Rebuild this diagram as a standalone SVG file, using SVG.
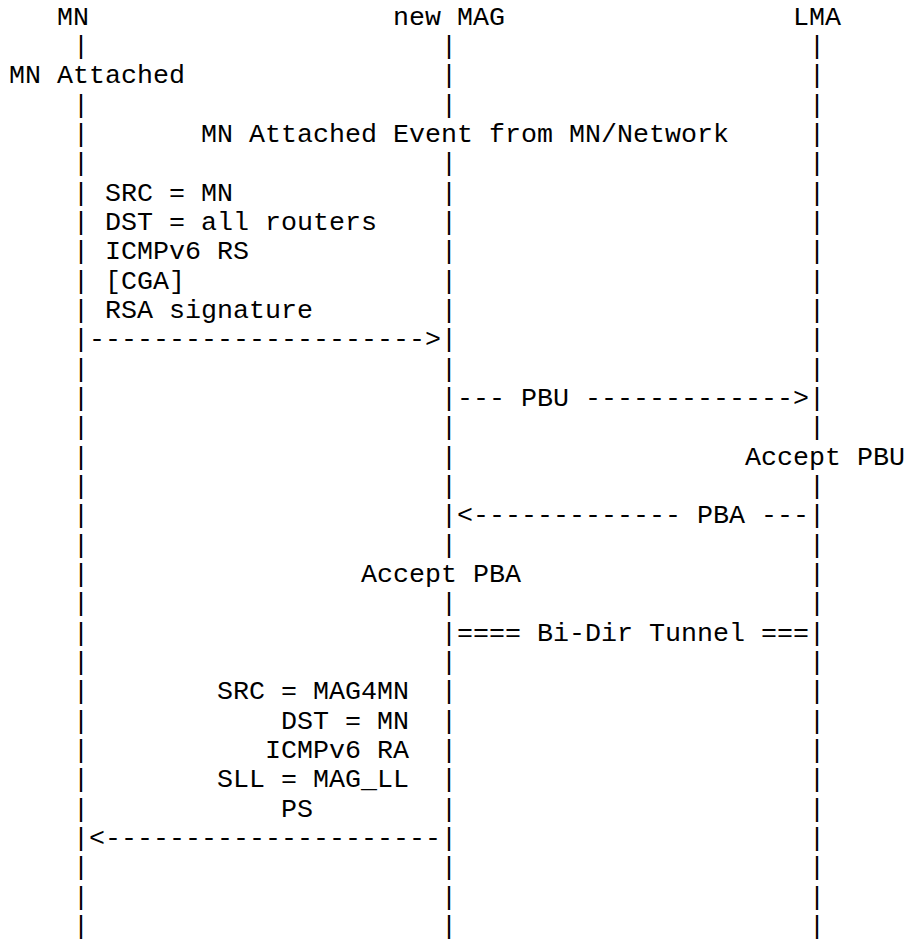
<svg xmlns="http://www.w3.org/2000/svg" width="908" height="940" viewBox="0 0 908 940">
<style>
text { font-family: "Liberation Mono", "Courier New", monospace; font-size: 26.667px; fill: #000; white-space: pre; }
</style>
<rect width="908" height="940" fill="#fff"/>
<g id="mn">
<text x="57" y="24.5">MN</text>
</g>
<g id="new-mag">
<text x="393" y="24.5">new MAG</text>
</g>
<g id="lma">
<text x="793" y="24.5">LMA</text>
</g>
<g id="lifelines">
<text id="mn-line"><tspan x="73" y="53.8">|</tspan><tspan x="73" y="112.5">|</tspan><tspan x="73" y="141.8">|</tspan><tspan x="73" y="171.2">|</tspan><tspan x="73" y="200.5">|</tspan><tspan x="73" y="229.8">|</tspan><tspan x="73" y="259.2">|</tspan><tspan x="73" y="288.5">|</tspan><tspan x="73" y="317.8">|</tspan><tspan x="73" y="347.2">|</tspan><tspan x="73" y="376.5">|</tspan><tspan x="73" y="405.8">|</tspan><tspan x="73" y="435.2">|</tspan><tspan x="73" y="464.5">|</tspan><tspan x="73" y="493.8">|</tspan><tspan x="73" y="523.2">|</tspan><tspan x="73" y="552.5">|</tspan><tspan x="73" y="581.8">|</tspan><tspan x="73" y="611.2">|</tspan><tspan x="73" y="640.5">|</tspan><tspan x="73" y="669.8">|</tspan><tspan x="73" y="699.2">|</tspan><tspan x="73" y="728.5">|</tspan><tspan x="73" y="757.8">|</tspan><tspan x="73" y="787.2">|</tspan><tspan x="73" y="816.5">|</tspan><tspan x="73" y="845.8">|</tspan><tspan x="73" y="875.2">|</tspan><tspan x="73" y="904.5">|</tspan><tspan x="73" y="933.8">|</tspan></text>
<text id="mag-line"><tspan x="441" y="53.8">|</tspan><tspan x="441" y="83.2">|</tspan><tspan x="441" y="112.5">|</tspan><tspan x="441" y="171.2">|</tspan><tspan x="441" y="200.5">|</tspan><tspan x="441" y="229.8">|</tspan><tspan x="441" y="259.2">|</tspan><tspan x="441" y="288.5">|</tspan><tspan x="441" y="317.8">|</tspan><tspan x="441" y="347.2">|</tspan><tspan x="441" y="376.5">|</tspan><tspan x="441" y="405.8">|</tspan><tspan x="441" y="435.2">|</tspan><tspan x="441" y="464.5">|</tspan><tspan x="441" y="493.8">|</tspan><tspan x="441" y="523.2">|</tspan><tspan x="441" y="552.5">|</tspan><tspan x="441" y="611.2">|</tspan><tspan x="441" y="640.5">|</tspan><tspan x="441" y="669.8">|</tspan><tspan x="441" y="699.2">|</tspan><tspan x="441" y="728.5">|</tspan><tspan x="441" y="757.8">|</tspan><tspan x="441" y="787.2">|</tspan><tspan x="441" y="816.5">|</tspan><tspan x="441" y="845.8">|</tspan><tspan x="441" y="875.2">|</tspan><tspan x="441" y="904.5">|</tspan><tspan x="441" y="933.8">|</tspan></text>
<text id="lma-line"><tspan x="809" y="53.8">|</tspan><tspan x="809" y="83.2">|</tspan><tspan x="809" y="112.5">|</tspan><tspan x="809" y="141.8">|</tspan><tspan x="809" y="171.2">|</tspan><tspan x="809" y="200.5">|</tspan><tspan x="809" y="229.8">|</tspan><tspan x="809" y="259.2">|</tspan><tspan x="809" y="288.5">|</tspan><tspan x="809" y="317.8">|</tspan><tspan x="809" y="347.2">|</tspan><tspan x="809" y="376.5">|</tspan><tspan x="809" y="405.8">|</tspan><tspan x="809" y="435.2">|</tspan><tspan x="809" y="493.8">|</tspan><tspan x="809" y="523.2">|</tspan><tspan x="809" y="552.5">|</tspan><tspan x="809" y="581.8">|</tspan><tspan x="809" y="611.2">|</tspan><tspan x="809" y="640.5">|</tspan><tspan x="809" y="669.8">|</tspan><tspan x="809" y="699.2">|</tspan><tspan x="809" y="728.5">|</tspan><tspan x="809" y="757.8">|</tspan><tspan x="809" y="787.2">|</tspan><tspan x="809" y="816.5">|</tspan><tspan x="809" y="845.8">|</tspan><tspan x="809" y="875.2">|</tspan><tspan x="809" y="904.5">|</tspan><tspan x="809" y="933.8">|</tspan></text>
</g>
<g id="connectors">
<text x="89" y="347.2">---------------------&gt;</text>
<text x="457" y="405.8" xml:space="preserve">--- PBU -------------&gt;</text>
<text x="457" y="523.2" xml:space="preserve">&lt;------------- PBA ---</text>
<text x="457" y="640.5" xml:space="preserve">==== Bi-Dir Tunnel ===</text>
<text x="89" y="845.8">&lt;---------------------</text>
</g>
<g id="events">
<text x="9" y="83.2">MN Attached</text>
<text x="201" y="141.8">MN Attached Event from MN/Network</text>
<text x="745" y="464.5">Accept PBU</text>
<text x="361" y="581.8">Accept PBA</text>
</g>
<g id="rs-labels">
<text x="105" y="200.5">SRC = MN</text>
<text x="105" y="229.8">DST = all routers</text>
<text x="105" y="259.2">ICMPv6 RS</text>
<text x="105" y="288.5">[CGA]</text>
<text x="105" y="317.8">RSA signature</text>
</g>
<g id="ra-labels">
<text x="217" y="699.2">SRC = MAG4MN</text>
<text x="281" y="728.5">DST = MN</text>
<text x="265" y="757.8">ICMPv6 RA</text>
<text x="217" y="787.2">SLL = MAG_LL</text>
<text x="281" y="816.5">PS</text>
</g>
</svg>
